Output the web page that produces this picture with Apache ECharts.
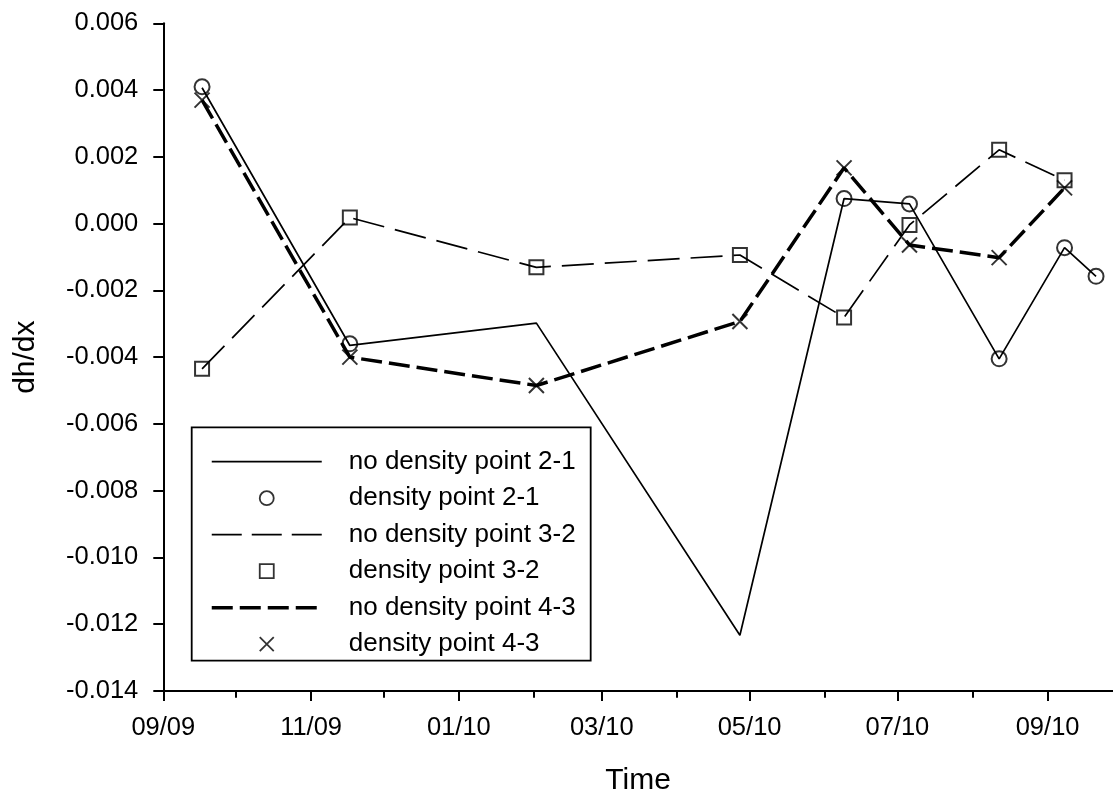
<!DOCTYPE html>
<html>
<head>
<meta charset="utf-8">
<script src="https://cdn.jsdelivr.net/npm/echarts@6/dist/echarts.min.js"></script>
<style>
  html, body { margin: 0; padding: 0; background: #fff; }
  #chart { width: 1113px; height: 801px; }
</style>
</head>
<body>
<div id="chart"></div>
<script>
// Sampling dates (gradient measurements)
const dates = ['2009-09-17', '2009-11-17', '2010-02-02', '2010-04-27', '2010-06-09',
               '2010-07-06', '2010-08-12', '2010-09-08', '2010-09-21'];

// Hydraulic gradient dh/dx per piezometer pair
const noDensity21 = [0.00407, -0.00365, -0.00298, -0.01233, 0.00075, 0.00059, -0.00405, -0.00072, -0.00158];
const density21   = [0.00410, -0.00360, null, null, 0.00075, 0.00059, -0.00405, -0.00072, -0.00158];
const noDensity32 = [-0.00435, 0.00018, -0.00131, -0.00094, -0.00281, -0.00004, 0.00221, 0.00130, null];
const density32   = [-0.00435, 0.00018, -0.00131, -0.00094, -0.00281, -0.00004, 0.00221, 0.00130, null];
const noDensity43 = [0.00370, -0.00400, -0.00485, -0.00293, 0.00167, -0.00064, -0.00102, 0.00107, null];
const density43   = [0.00370, -0.00400, -0.00485, -0.00293, 0.00167, -0.00064, -0.00102, 0.00107, null];

// Axis ticks
const majorTickDates = ['2009-09-01', '2009-11-01', '2010-01-01', '2010-03-01', '2010-05-01', '2010-07-01', '2010-09-01'];
const minorTickDates = ['2009-10-01', '2009-12-01', '2010-02-01', '2010-04-01', '2010-06-01', '2010-08-01'];
const xRange = ['2009-09-01', '2010-09-28'];
const yMin = -0.014, yMax = 0.006, yStep = 0.002;

const names = ['no density point 2-1', 'density point 2-1', 'no density point 3-2',
               'density point 3-2', 'no density point 4-3', 'density point 4-3'];

// Dates are placed on a numeric axis as UTC milliseconds
const ts = s => Date.UTC(+s.slice(0, 4), +s.slice(5, 7) - 1, +s.slice(8, 10));
const pairs = vals => dates.map((d, i) => [ts(d), vals[i]]).filter(p => p[1] != null);
const pad2 = n => (n < 10 ? '0' : '') + n;
const fmtDate = v => { const d = new Date(v); return pad2(d.getUTCMonth() + 1) + '/' + pad2(d.getUTCFullYear() % 100); };

const FONT = "'Liberation Sans', Arial, sans-serif";
const BLACK = '#000';
const crossMark = 'path://M0,0L10,10M10,0L0,10';
const squareMark = 'path://M0,0H10V10H0Z';

const lineSeries = (name, vals, width, type) => ({
  name, type: 'line', data: pairs(vals), symbol: 'none', showSymbol: false,
  lineStyle: { color: BLACK, width, type }, itemStyle: { color: BLACK },
  z: 2, silent: true
});
const pointSeries = (name, vals, symbol, size) => ({
  name, type: 'scatter', data: pairs(vals), symbol, symbolSize: size,
  itemStyle: { color: 'transparent', borderColor: BLACK, borderWidth: 2 },
  z: 3, silent: true
});

const hiddenMark = { color: 'transparent', borderColor: 'transparent', borderWidth: 0 };
const markStyle = { color: 'transparent', borderColor: BLACK, borderWidth: 1.8 };

const chart = echarts.init(document.getElementById('chart'), null, { renderer: 'canvas' });
chart.setOption({
  animation: false,
  backgroundColor: '#fff',
  textStyle: { fontFamily: FONT, color: BLACK },
  grid: { left: 163.3, top: 23.3, right: 0, bottom: 107 },
  xAxis: [{
    type: 'value', position: 'bottom',
    min: ts(xRange[0]), max: ts(xRange[1]),
    axisLine: { show: true, onZero: false, lineStyle: { color: BLACK, width: 2 } },
    axisTick: { show: true, inside: false, length: 10, customValues: majorTickDates.map(ts),
                lineStyle: { color: BLACK, width: 2 } },
    axisLabel: { show: true, customValues: majorTickDates.map(ts), formatter: v => fmtDate(v),
                 fontSize: 25.5, fontFamily: FONT, color: BLACK, margin: 24, hideOverlap: false },
    splitLine: { show: false },
    name: 'Time', nameLocation: 'middle', nameGap: 75,
    nameTextStyle: { fontSize: 30, fontFamily: FONT, color: BLACK }
  }, {
    type: 'value', position: 'bottom',
    min: ts(xRange[0]), max: ts(xRange[1]),
    axisLine: { show: false, onZero: false },
    axisTick: { show: true, inside: false, length: 6.7, customValues: minorTickDates.map(ts),
                lineStyle: { color: BLACK, width: 2 } },
    axisLabel: { show: false },
    splitLine: { show: false }
  }],
  yAxis: {
    type: 'value', min: yMin, max: yMax, interval: yStep,
    axisLine: { show: true, lineStyle: { color: BLACK, width: 2 } },
    axisTick: { show: true, inside: false, length: 10, lineStyle: { color: BLACK, width: 2 } },
    axisLabel: { fontSize: 25.5, fontFamily: FONT, color: BLACK, margin: 25,
                 formatter: v => (Math.abs(v) < 1e-9 ? '0.000' : v.toFixed(3)) },
    splitLine: { show: false },
    name: 'dh/dx', nameLocation: 'middle', nameGap: 123,
    nameTextStyle: { fontSize: 30, fontFamily: FONT, color: BLACK }
  },
  legend: {
    orient: 'vertical', left: 191.7, top: 427.3,
    padding: [21.4, 15, 3.4, 18.3],
    borderColor: BLACK, borderWidth: 1.8, backgroundColor: '#fff',
    itemWidth: 110, itemHeight: 14, itemGap: 10.5,
    symbolKeepAspect: true,
    selectedMode: false,
    textStyle: { fontSize: 26, lineHeight: 26, fontFamily: FONT, color: BLACK, padding: [0, 0, 0, 22] },
    data: [
      { name: names[0], itemStyle: hiddenMark, lineStyle: { color: BLACK, width: 1.7, type: 'solid' } },
      { name: names[1], itemStyle: markStyle },
      { name: names[2], itemStyle: hiddenMark, lineStyle: { color: BLACK, width: 1.7, type: [30, 10] } },
      { name: names[3], itemStyle: markStyle },
      { name: names[4], itemStyle: hiddenMark, lineStyle: { color: BLACK, width: 3.5, type: [21, 7] } },
      { name: names[5], itemStyle: markStyle }
    ]
  },
  series: [
    lineSeries(names[0], noDensity21, 1.7, 'solid'),
    lineSeries(names[2], noDensity32, 1.7, [32, 11]),
    lineSeries(names[4], noDensity43, 3.5, [21, 7]),
    pointSeries(names[1], density21, 'circle', 15),
    pointSeries(names[3], density32, squareMark, 14),
    pointSeries(names[5], density43, crossMark, 15)
  ]
});
</script>
</body>
</html>
